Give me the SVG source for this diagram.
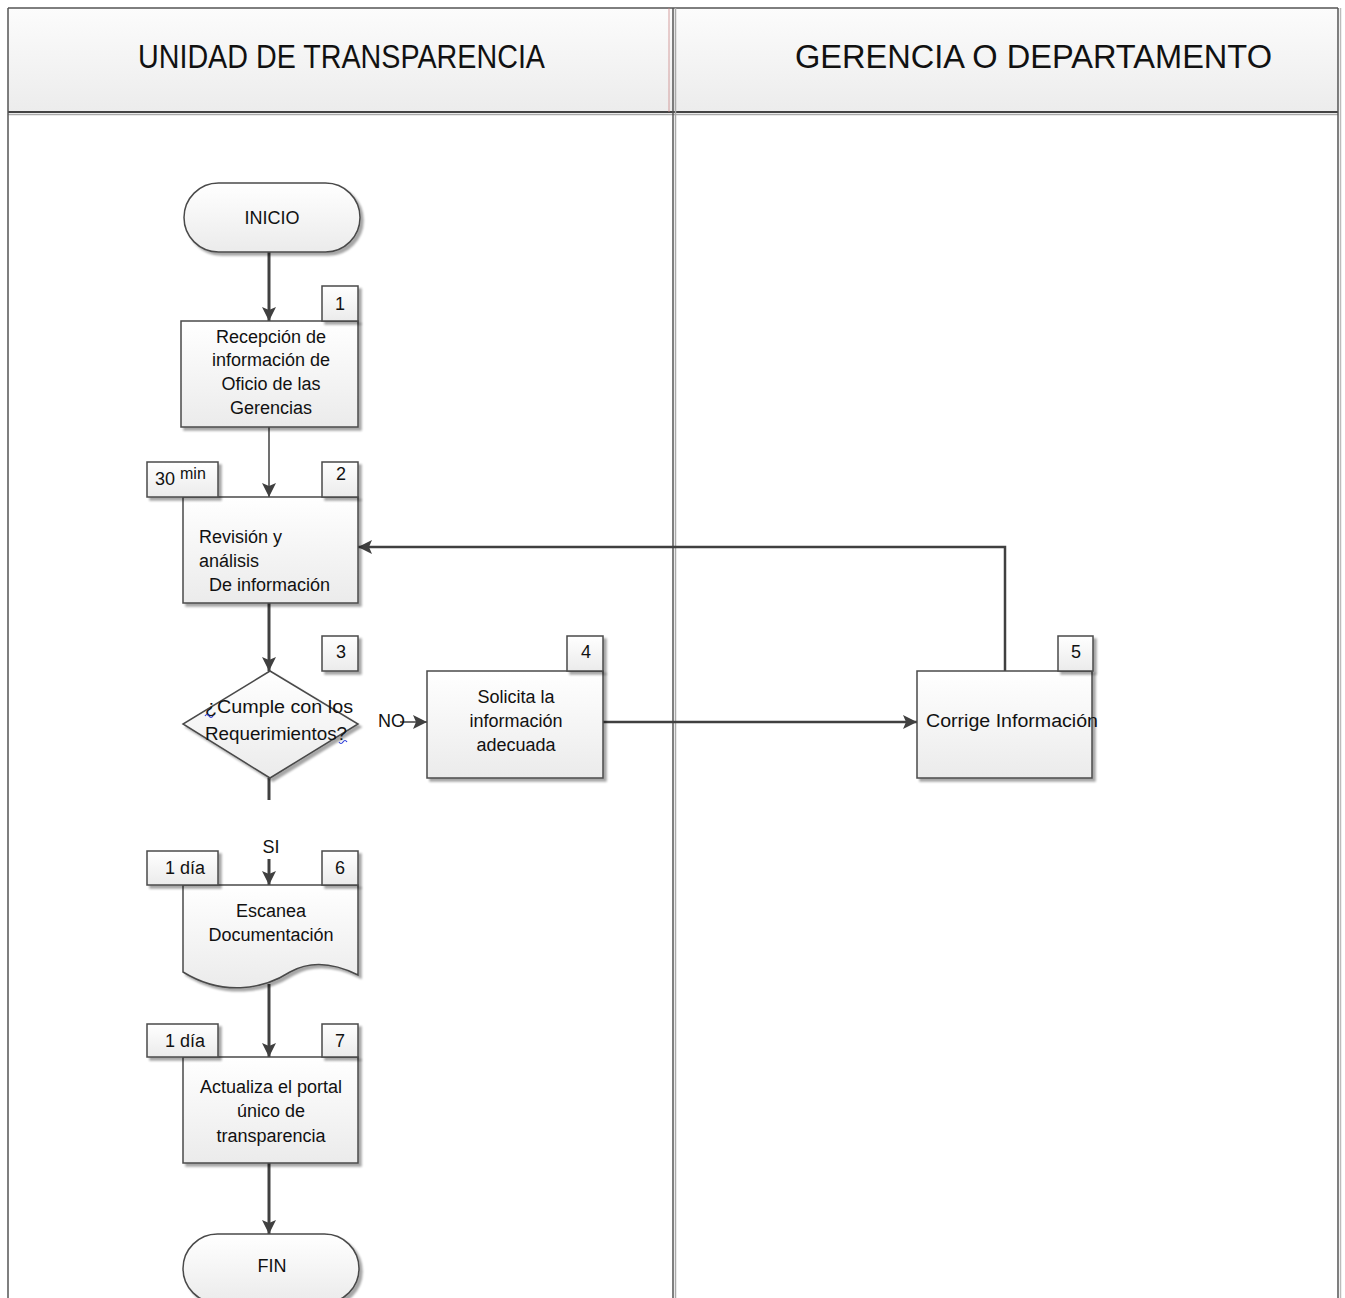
<svg xmlns="http://www.w3.org/2000/svg" width="1345" height="1298" viewBox="0 0 1345 1298">
<defs>
<linearGradient id="hdr" x1="0" y1="0" x2="0" y2="1"><stop offset="0" stop-color="#fcfcfc"/><stop offset="1" stop-color="#ececec"/></linearGradient>
<linearGradient id="box" x1="0" y1="0" x2="0" y2="1"><stop offset="0" stop-color="#ffffff"/><stop offset="1" stop-color="#ebebeb"/></linearGradient>
<filter id="sh" x="-10%" y="-10%" width="130%" height="130%"><feDropShadow dx="3" dy="3" stdDeviation="1.2" flood-color="#000" flood-opacity="0.35"/></filter>
<marker id="ar" viewBox="0 0 14 14" refX="14" refY="7" markerWidth="14" markerHeight="14" markerUnits="userSpaceOnUse" orient="auto"><path d="M0,0 L14,7 L0,14 L3,7 z" fill="#404040"/></marker>
<style>
.shape{fill:url(#box);stroke:#4a4a4a;stroke-width:1.5;filter:url(#sh)}
.tag{fill:url(#box);stroke:#4a4a4a;stroke-width:1.5;filter:url(#sh)}
.t{font-family:"Liberation Sans",Arial,sans-serif;font-size:18px;fill:#111}
.c{text-anchor:middle}
.h{font-family:"Liberation Sans",Arial,sans-serif;font-size:34px;fill:#111;text-anchor:middle}
.ln{fill:none;stroke:#404040;stroke-width:3}
.lm{fill:none;stroke:#404040;stroke-width:2.5}
.lt{fill:none;stroke:#404040;stroke-width:1.5}
.sq{fill:none;stroke:#2a3bd8;stroke-width:1.2}
</style>
</defs>
<rect width="1345" height="1298" fill="#fff"/>
<g id="lanes">
<rect x="8" y="8" width="1330" height="104" fill="url(#hdr)"/>
<line x1="8" y1="8" x2="1338" y2="8" stroke="#555" stroke-width="1.5"/>
<line x1="8" y1="112" x2="1338" y2="112" stroke="#444" stroke-width="2"/>
<line x1="8" y1="114.5" x2="1338" y2="114.5" stroke="#aaa" stroke-width="1.5"/>
<line x1="8" y1="8" x2="8" y2="1298" stroke="#555" stroke-width="1.5"/>
<line x1="1338" y1="8" x2="1338" y2="1298" stroke="#555" stroke-width="1.5"/>
<line x1="1340.5" y1="8" x2="1340.5" y2="1298" stroke="#bbb" stroke-width="1.5"/>
<line x1="669" y1="8" x2="669" y2="112" stroke="#c88" stroke-width="0.8"/>
<line x1="673" y1="8" x2="673" y2="1298" stroke="#555" stroke-width="1.5"/>
<line x1="675.5" y1="8" x2="675.5" y2="1298" stroke="#aaa" stroke-width="1.5"/>
<text class="h" x="341.5" y="68" textLength="407" lengthAdjust="spacingAndGlyphs">UNIDAD DE TRANSPARENCIA</text>
<text class="h" x="1033.5" y="68" textLength="477" lengthAdjust="spacingAndGlyphs">GERENCIA O DEPARTAMENTO</text>
</g>
<g id="connectors">
<line class="ln" x1="269" y1="252" x2="269" y2="321" marker-end="url(#ar)"/>
<line class="lt" x1="269" y1="427" x2="269" y2="497" marker-end="url(#ar)"/>
<line class="ln" x1="269" y1="603" x2="269" y2="671" marker-end="url(#ar)"/>
<line class="ln" x1="269" y1="778" x2="269" y2="800"/>
<line class="ln" x1="269" y1="859" x2="269" y2="885" marker-end="url(#ar)"/>
<line class="lt" x1="400" y1="722" x2="427" y2="722" marker-end="url(#ar)"/>
<line class="lm" x1="603" y1="722" x2="917" y2="722" marker-end="url(#ar)"/>
<polyline class="lm" points="1005,671 1005,547 358,547" marker-end="url(#ar)"/>
<line class="ln" x1="269" y1="984" x2="269" y2="1057" marker-end="url(#ar)"/>
<line class="ln" x1="269" y1="1163" x2="269" y2="1234" marker-end="url(#ar)"/>
<text class="t" x="378" y="727" font-size="16">NO</text>
<text class="t c" x="271" y="853">SI</text>
</g>
<g id="n-inicio">
<rect class="shape" x="184" y="183" width="176" height="69" rx="34.5"/>
<text class="t c" x="272" y="224">INICIO</text>
</g>
<g id="n1">
<rect class="shape" x="181" y="321" width="177" height="106"/>
<rect class="tag" x="322" y="286" width="36" height="35"/>
<text class="t c" x="340" y="310">1</text>
<text class="t c" x="271" y="343">Recepción de</text>
<text class="t c" x="271" y="366">información de</text>
<text class="t c" x="271" y="390">Oficio de las</text>
<text class="t c" x="271" y="414">Gerencias</text>
</g>
<g id="n2">
<rect class="shape" x="183" y="497" width="175" height="106"/>
<rect class="tag" x="322" y="462" width="36" height="35"/>
<text class="t c" x="341" y="480">2</text>
<rect class="tag" x="147" y="462" width="71" height="35"/>
<text class="t" x="155" y="485">30 <tspan font-size="16" dy="-6">min</tspan></text>
<text class="t" x="199" y="543">Revisión y</text>
<text class="t" x="199" y="567">análisis</text>
<text class="t" x="209" y="591">De información</text>
</g>
<g id="n3">
<polygon class="shape" points="270,671 358,724 270,778 183,724"/>
<rect class="tag" x="322" y="636" width="36" height="35"/>
<text class="t c" x="341" y="658">3</text>
<text class="t" x="205" y="713" textLength="148" lengthAdjust="spacingAndGlyphs">¿Cumple con los</text>
<text class="t" x="205" y="740" textLength="142" lengthAdjust="spacingAndGlyphs">Requerimientos?</text>
<path class="sq" d="M205,716 q2,-3 4,0 t4,0"/>
<path class="sq" d="M339,742 q2,3 4,0 t4,0"/>
</g>
<g id="n4">
<rect class="shape" x="427" y="671" width="176" height="107"/>
<rect class="tag" x="567" y="636" width="36" height="35"/>
<text class="t c" x="586" y="658">4</text>
<text class="t c" x="516" y="703">Solicita la</text>
<text class="t c" x="516" y="727">información</text>
<text class="t c" x="516" y="751">adecuada</text>
</g>
<g id="n5">
<rect class="shape" x="917" y="671" width="175" height="107"/>
<rect class="tag" x="1058" y="636" width="35" height="35"/>
<text class="t c" x="1076" y="658">5</text>
<text class="t" x="926" y="727" textLength="172" lengthAdjust="spacingAndGlyphs">Corrige Información</text>
</g>
<g id="n6">
<path class="shape" d="M183,885 L358,885 L358,975 C340,966 315,958 290,972 C262,990 222,996 183,972 Z"/>
<rect class="tag" x="322" y="851" width="36" height="34"/>
<text class="t c" x="340" y="874">6</text>
<rect class="tag" x="147" y="851" width="71" height="34"/>
<text class="t c" x="185" y="874">1 día</text>
<text class="t c" x="271" y="917">Escanea</text>
<text class="t c" x="271" y="941">Documentación</text>
</g>
<g id="n7">
<rect class="shape" x="183" y="1057" width="175" height="106"/>
<rect class="tag" x="322" y="1024" width="36" height="33"/>
<text class="t c" x="340" y="1047">7</text>
<rect class="tag" x="147" y="1024" width="71" height="33"/>
<text class="t c" x="185" y="1047">1 día</text>
<text class="t c" x="271" y="1093">Actualiza el portal</text>
<text class="t c" x="271" y="1117">único de</text>
<text class="t c" x="271" y="1142">transparencia</text>
</g>
<g id="n-fin">
<rect class="shape" x="183" y="1234" width="176" height="69" rx="34.5"/>
<text class="t c" x="272" y="1272">FIN</text>
</g>
</svg>
